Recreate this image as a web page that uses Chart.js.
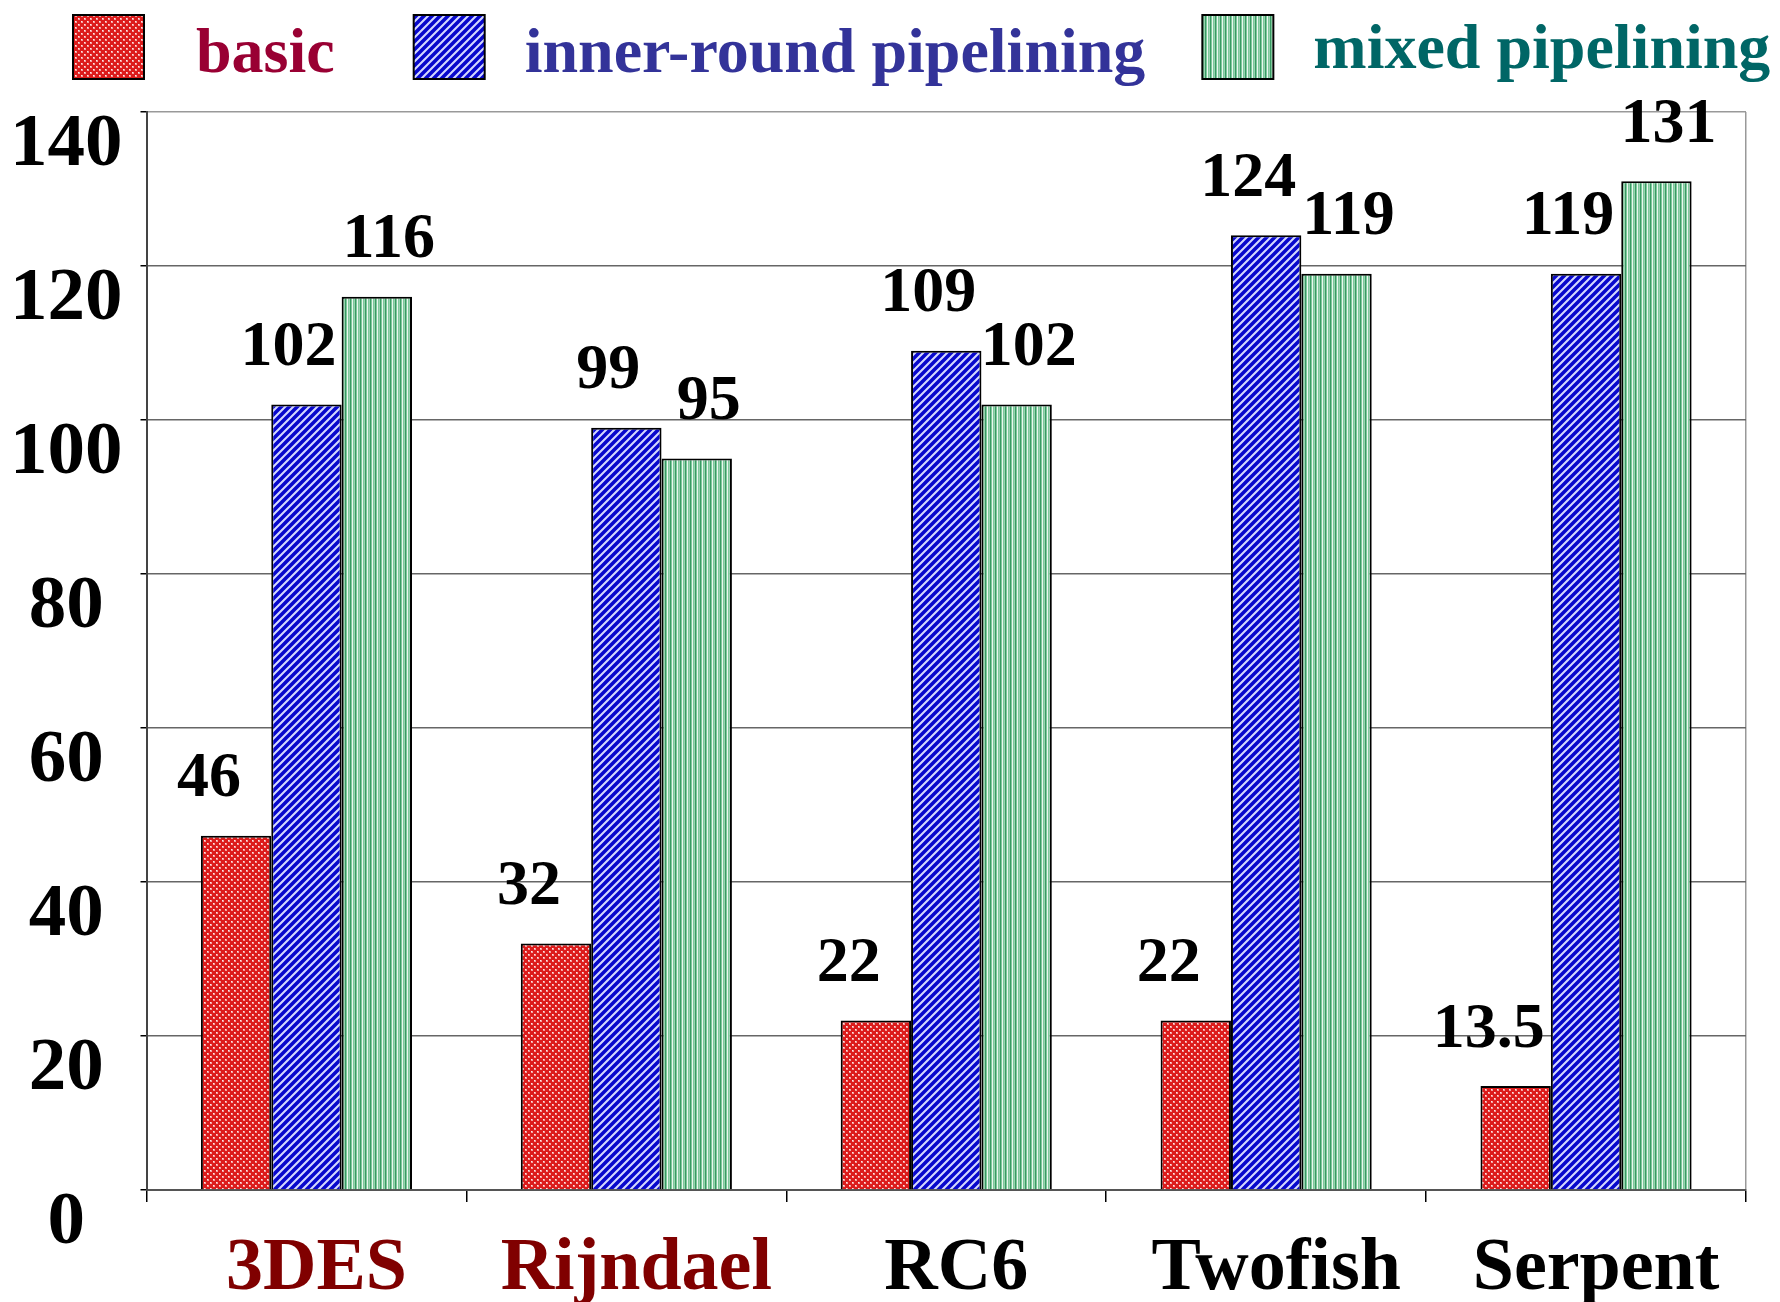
<!DOCTYPE html>
<html>
<head>
<meta charset="utf-8">
<script src="https://cdn.jsdelivr.net/npm/chart.js@4.4.1/dist/chart.umd.min.js"></script>
<style>
    html, body { margin: 0; padding: 0; background: #fff; }
    #contenedorGrafico { width: 1780px; height: 1302px; }
</style>
</head>
<body>
<div id="contenedorGrafico"><canvas id="graficoPipelining"></canvas></div>
<script>
// ===================================== Datos ==================
var categorias = ['3DES', 'Rijndael', 'RC6', 'Twofish', 'Serpent'];
var valoresBasic = [46, 32, 22, 22, 13.5];
var valoresInnerRound = [102, 99, 109, 124, 119];
var valoresMixed = [116, 95, 102, 119, 131];
var ticksY = [0, 20, 40, 60, 80, 100, 120, 140];
var nombresSeries = ['basic', 'inner-round pipelining', 'mixed pipelining'];

var coloresLeyenda = ['#990033', '#333399', '#006666'];
var fuente = '"Liberation Serif", "Times New Roman", serif';



// ===================================== Patrones de relleno ==================
var lienzo = document.getElementById('graficoPipelining');

function crearPatron(ancho, alto, dibujar) {
    var c = document.createElement('canvas');
    c.width = ancho;
    c.height = alto;
    dibujar(c.getContext('2d'));
    return lienzo.getContext('2d').createPattern(c, 'repeat');
}

// cuadriculado rojo
var patronRojo = crearPatron(6, 6, g => {
    g.fillStyle = '#dc1c1c';
    g.fillRect(0, 0, 6, 6);
    g.fillStyle = '#f2a0a0';
    g.fillRect(0, 0, 2, 2);
    g.fillRect(3, 3, 2, 2);
    g.fillStyle = '#ffe8e8';
    g.fillRect(0, 0, 1, 1);
    g.fillRect(3, 3, 1, 1);
});

// diagonales azules "/"
var patronAzul = crearPatron(8, 8, g => {
    g.fillStyle = '#d4d8ff';
    g.fillRect(0, 0, 8, 8);
    g.strokeStyle = '#0808cc';
    g.lineWidth = 3.6;
    g.beginPath();
    g.moveTo(-2, 10); g.lineTo(10, -2);
    g.moveTo(-6, 6); g.lineTo(6, -6);
    g.moveTo(2, 14); g.lineTo(14, 2);
    g.stroke();
});

// rayas verticales verdes
var patronVerde = crearPatron(5, 4, g => {
    var cols = ['#3a9a64', '#7fc89c', '#eaf7ef', '#7fc89c', '#98d4b0'];
    cols.forEach((col, i) => {
        g.fillStyle = col;
        g.fillRect(i, 0, 1, 4);
    });
});

var patrones = [patronRojo, patronAzul, patronVerde];



// ===================================== Leyenda (arriba) ==================
var separacionTexto = [52, 40, 40];   // caja -> texto
var separacionItem = [79, 57];        // texto -> siguiente caja

var pluginLeyenda = {
    id: 'leyendaArriba',
    afterDraw(chart) {
        var ctx = chart.ctx;
        var x = 73;
        ctx.save();
        ctx.font = 'bold 64px ' + fuente;
        ctx.textBaseline = 'alphabetic';
        chart.data.datasets.forEach((ds, i) => {
            ctx.fillStyle = ds.backgroundColor;
            ctx.fillRect(x, 15, 71, 64);
            ctx.lineWidth = 2;
            ctx.strokeStyle = '#000';
            ctx.strokeRect(x, 15, 71, 64);
            x += 71 + separacionTexto[i];
            ctx.fillStyle = coloresLeyenda[i];
            ctx.fillText(ds.label, x, i === 2 ? 68 : 72);
            x += ctx.measureText(ds.label).width + (separacionItem[i] || 0);
        });
        ctx.restore();
    }
};



// ===================================== Valores sobre las barras ==================
var corrimientoEtiqueta = [-27, -18, 12];

var pluginValores = {
    id: 'valoresBarras',
    afterDatasetsDraw(chart) {
        var ctx = chart.ctx;
        ctx.save();
        ctx.font = 'bold 64px ' + fuente;
        ctx.fillStyle = '#000';
        ctx.textAlign = 'center';
        ctx.textBaseline = 'middle';
        chart.data.datasets.forEach((ds, i) => {
            chart.getDatasetMeta(i).data.forEach((barra, j) => {
                ctx.fillText(String(ds.data[j]), barra.x + corrimientoEtiqueta[i], barra.y - 56);
            });
        });
        ctx.restore();
    }
};



// ===================================== Gráfico ==================
var series = [valoresBasic, valoresInnerRound, valoresMixed];

var graficoPipelining = new Chart(lienzo, {
    type: 'bar',
    data: {
        labels: categorias,
        datasets: series.map((valores, i) => ({
            label: nombresSeries[i],
            data: valores,
            backgroundColor: patrones[i],
            borderColor: '#000',
            borderWidth: 2,
            categoryPercentage: 0.66,
            barPercentage: 1.0
        }))
    },
    options: {
        responsive: true,
        maintainAspectRatio: false,
        animation: false,
        layout: {
            padding: { top: 112, left: -8, right: 34, bottom: -36 }
        },
        plugins: {
            legend: { display: false },
            tooltip: { enabled: false }
        },
        scales: {
            x: {
                offset: true,
                grid: {
                    offset: true,
                    color: ctx => (ctx.type === 'scale') ? '#999' : 'rgba(0,0,0,0)',
                    lineWidth: 1.5,
                    tickColor: '#000',
                    tickLength: 12
                },
                border: { color: '#555', width: 2 },
                ticks: {
                    color: ctx => ctx.index < 2 ? '#800000' : '#000',
                    font: { family: fuente, size: 74, weight: 'bold', lineHeight: 1 },
                    padding: 31,
                    labelOffset: 10,
                    maxRotation: 0
                }
            },
            y: {
                min: 0,
                max: 140,
                afterBuildTicks: eje => { eje.ticks = ticksY.map(v => ({ value: v })); },
                grid: {
                    color: ctx => (ctx.tick && ctx.tick.value === 140) ? '#999' : '#666',
                    lineWidth: 1.5,
                    tickColor: '#000',
                    tickLength: 6
                },
                border: { color: '#444', width: 2 },
                ticks: {
                    color: '#000',
                    font: { family: fuente, size: 75, weight: 'bold' },
                    padding: 18,
                    crossAlign: 'center',
                    labelOffset: 34
                }
            }
        }
    },
    plugins: [pluginValores, pluginLeyenda]
});
</script>
</body>
</html>
